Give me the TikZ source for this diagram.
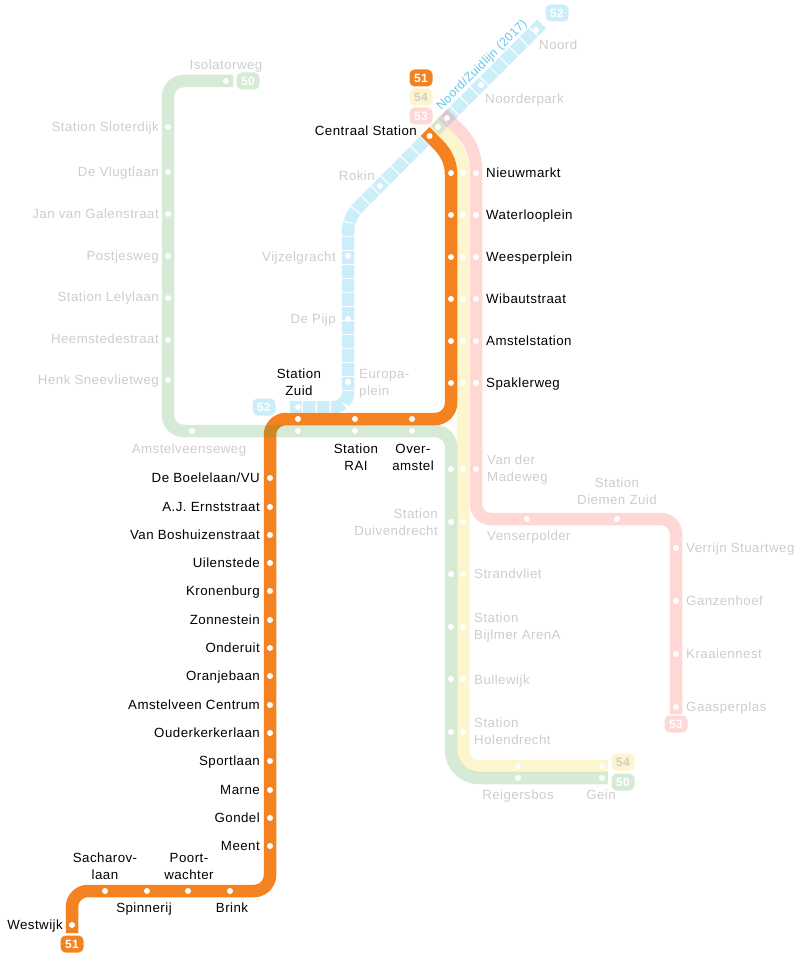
\documentclass[tikz,border=0pt]{standalone}
\usepackage{fontspec}
\setmainfont[LetterSpace=3.5]{Liberation Sans}
\usetikzlibrary{positioning}
\definecolor{lineorange}{HTML}{F58220}
\definecolor{lineblue}{HTML}{00AAEB}
\definecolor{lineyellow}{HTML}{F5CD0A}
\definecolor{linepink}{HTML}{FF3C2D}
\definecolor{linegreen}{HTML}{2D9B32}
\definecolor{fadegrey}{HTML}{CDCDCD}
\definecolor{titleblue}{HTML}{5CC8F0}

\begin{document}
\begin{tikzpicture}[
  x=1pt, y=-1pt,
  metroline/.style={line width=12.5pt},
  stopdot/.style={circle, fill=white, minimum size=6pt, inner sep=0pt},
  stn/.style={inner sep=0pt, font=\fontsize{13.3}{17}\selectfont, text height=11pt, text depth=1.2pt},
  stntwo/.style={inner sep=0pt, align=center, font=\fontsize{13.3}{17}\selectfont},
  stnleft/.style={inner sep=0pt, align=left, font=\fontsize{13.3}{17}\selectfont},
  stnright/.style={inner sep=0pt, align=right, font=\fontsize{13.3}{17}\selectfont},
  badge/.style={rounded corners=5pt, minimum width=23pt, minimum height=17pt, inner sep=0pt, font=\fontsize{12}{12}\selectfont\bfseries, text=white}
]
  \useasboundingbox (0,0) rectangle (800,955);

  % Line 52 (tiles)
  \coordinate (ba) at (541.5,24);
  \coordinate (bb) at (360,205.5);
  \coordinate (bc) at (348,234);
  \coordinate (bd) at (348,407);
  \coordinate (be) at (290,407);
  \draw[metroline, draw=lineblue, draw opacity=.2, dash pattern=on 12.6pt off 1.4pt, dash phase=2.3pt]
    (ba) -- (bb) .. controls (352,213.5) and (348,222) .. (bc) [rounded corners=14pt] -- (bd) -- (be);

  % Line 54
  \coordinate (ya) at (433.6,122.6);
  \coordinate (yb) at (449,138);
  \coordinate (yc) at (463,172);
  \coordinate (yd) at (463,766);
  \coordinate (ye) at (608,766);
  \draw[metroline, draw=lineyellow, draw opacity=.2]
    (ya) -- (yb) .. controls (458,147) and (463,158) .. (yc) [rounded corners=16pt] -- (yd) -- (ye);

  % Line 53
  \coordinate (pa) at (442.5,113.6);
  \coordinate (pb) at (460,131);
  \coordinate (pc) at (476,170);
  \coordinate (pd) at (476,519);
  \coordinate (pe) at (676,519);
  \coordinate (pf) at (676,714);
  \draw[metroline, draw=linepink, draw opacity=.2]
    (pa) -- (pb) .. controls (470,141) and (476,154) .. (pc) [rounded corners=15pt] -- (pd) -- (pe) -- (pf);

  % Line 51
  \coordinate (oa) at (425,131.5);
  \coordinate (ob) at (438,144.5);
  \coordinate (oc) at (451,174);
  \coordinate (od) at (451,419);
  \coordinate (oe) at (270,419);
  \coordinate (of) at (270,891);
  \coordinate (og) at (72,891);
  \coordinate (oh) at (72,933);
  \draw[metroline, draw=lineorange]
    (oa) -- (ob) .. controls (446,152.5) and (451,162) .. (oc) [rounded corners=16pt] -- (od) -- (oe) -- (of) -- (og) -- (oh);

  % Line 50
  \coordinate (ga) at (233,81);
  \coordinate (gb) at (168,81);
  \coordinate (gc) at (168,431);
  \coordinate (gd) at (451,431);
  \coordinate (ge) at (451,778);
  \coordinate (gf) at (608,778);
  \draw[metroline, draw=linegreen, draw opacity=.2, rounded corners=16pt]
    (ga) -- (gb) -- (gc) -- (gd) [rounded corners=28pt] -- (ge) -- (gf);

  % Stops
  \foreach \y in {173,215,257,299,341,383} {
    \node[stopdot] (o451\y) at (451,\y) {};
    \node[stopdot] (y463\y) at (463,\y) {};
    \node[stopdot] (p476\y) at (476,\y) {};
  }
  \foreach \x in {298,355,412} {
    \node[stopdot] (o\x) at (\x,419) {};
    \node[stopdot] (g\x) at (\x,431) {};
  }
  \foreach \y in {478,507,535,563,591,620,648,676,705,733,761,790,818,846}
    \node[stopdot] (o270\y) at (270,\y) {};
  \foreach \x in {105,147,188,230}
    \node[stopdot] (o\x) at (\x,891) {};
  \node[stopdot] (owest) at (72,925) {};
  \node[stopdot] (ocentraal) at (429.5,136) {};
  \node[stopdot] (ycentraal) at (438,127) {};
  \node[stopdot] (pcentraal) at (447,118) {};
  \foreach \y in {469,522,574,627,679,732} {
    \node[stopdot] (g451\y) at (451,\y) {};
    \node[stopdot] (y463\y) at (463,\y) {};
  }
  \node[stopdot] (p476469) at (476,469) {};
  \foreach \x in {518,602} {
    \node[stopdot] (y\x) at (\x,766) {};
    \node[stopdot] (g\x) at (\x,778) {};
  }
  \node[stopdot] (p527) at (527,519) {};
  \node[stopdot] (p617) at (617,519) {};
  \foreach \y in {548,601,654,707}
    \node[stopdot] (p676\y) at (676,\y) {};
  \node[stopdot] (giso) at (226,81) {};
  \node[stopdot] (gams) at (192,431) {};
  \foreach \y in {127,172,214,256,298,340,380}
    \node[stopdot] (g168\y) at (168,\y) {};
  \node[stopdot] (bzuid) at (298,407) {};
  \node[stopdot] (beuro) at (348,382) {};
  \node[stopdot] (bpijp) at (348,319) {};
  \node[stopdot] (bvijz) at (348,256) {};
  \node[stopdot] (brokin) at (380,186) {};
  \node[stopdot] (bnpark) at (481,85) {};
  \node[stopdot] (bnoord) at (536,30) {};

  % Black labels, line 51 and centre
  \foreach \y/\txt in {173/Nieuwmarkt,215/Waterlooplein,257/Weesperplein,299/Wibautstraat,341/Amstelstation,383/Spaklerweg}
    \node[stn, anchor=west] (lbl\y) at (486,\y) {\txt};
  \foreach \y/\txt in {478/{De Boelelaan/VU},507/A.J. Ernststraat,535/Van Boshuizenstraat,563/Uilenstede,591/Kronenburg,620/Zonnestein,648/Onderuit,676/Oranjebaan,705/Amstelveen Centrum,733/Ouderkerkerlaan,761/Sportlaan,790/Marne,818/Gondel,846/Meent}
    \node[stn, anchor=east] (lbl\y) at (260,\y) {\txt};
  \node[stn, anchor=east] (lblcentraal) at (417,131) {Centraal Station};
  \node[stn, anchor=east] (lblwest) at (63,925) {Westwijk};
  \node[stntwo] (lblzuid) at (299,382) {Station\\Zuid};
  \node[stntwo] (lblrai) at (356,457) {Station\\RAI};
  \node[stntwo] (lblover) at (413,457) {Over-\\amstel};
  \node[stntwo] (lblsach) at (105,866) {Sacharov-\\laan};
  \node[stntwo] (lblpoort) at (189,866) {Poort-\\wachter};
  \node[stn] (lblspin) at (144,908) {Spinnerij};
  \node[stn] (lblbrink) at (232,908) {Brink};

  % Faded labels
  \begin{scope}[text=fadegrey]
    \foreach \y/\txt in {127/Station Sloterdijk,172/De Vlugtlaan,214/Jan van Galenstraat,256/Postjesweg,297/Station Lelylaan,339/Heemstedestraat,380/Henk Sneevlietweg}
      \node[stn, anchor=east] (lbl\y) at (159,\y) {\txt};
    \foreach \y/\txt in {548/Verrijn Stuartweg,601/Ganzenhoef,654/Kraaiennest,707/Gaasperplas}
      \node[stn, anchor=west] (lbl\y) at (686,\y) {\txt};
    \node[stn] (lbliso) at (226,65) {Isolatorweg};
    \node[stn] (lblams) at (189,449) {Amstelveenseweg};
    \node[stn, anchor=east] (lblrokin) at (375,176) {Rokin};
    \node[stn, anchor=east] (lblvijz) at (336,257) {Vijzelgracht};
    \node[stn, anchor=east] (lblpijp) at (336,319) {De Pijp};
    \node[stnleft, anchor=west] (lbleuro) at (359,384) {Europa-\\plein};
    \node[stn, anchor=west] (lblnpark) at (485,99) {Noorderpark};
    \node[stn, anchor=west] (lblnoord) at (539,45) {Noord};
    \node[stnleft, anchor=west] (lblvan) at (487,470) {Van der\\Madeweg};
    \node[stntwo] (lbldiem) at (617,491) {Station\\Diemen Zuid};
    \node[stn, anchor=west] (lblvens) at (487,536) {Venserpolder};
    \node[stnright, anchor=east] (lblduiv) at (438,522) {Station\\Duivendrecht};
    \node[stn, anchor=west] (lblstr) at (474,574) {Strandvliet};
    \node[stnleft, anchor=west] (lblbijl) at (474,628) {Station\\Bijlmer ArenA};
    \node[stn, anchor=west] (lblbull) at (474,680) {Bullewijk};
    \node[stnleft, anchor=west] (lblhol) at (474,731) {Station\\Holendrecht};
    \node[stn] (lblreig) at (518,795) {Reigersbos};
    \node[stn] (lblgein) at (601,795) {Gein};
  \end{scope}
  \node[stn, text=titleblue, rotate=45, font=\fontsize{12.2}{14}\selectfont] (lbltitle) at (481,64) {Noord/Zuidlijn (2017)};

  % Line badges
  \node[badge, fill=lineorange] (b51top) at (421,78) {51};
  \node[badge, fill=lineyellow!20, text=fadegrey] (b54top) at (421,97) {54};
  \node[badge, fill=linepink!20] (b53top) at (421,116) {53};
  \node[badge, fill=lineblue!20] (b52top) at (557,13) {52};
  \node[badge, fill=lineblue!20] (b52low) at (264,407) {52};
  \node[badge, fill=linegreen!20] (b50top) at (248,81) {50};
  \node[badge, fill=lineyellow!20, text=fadegrey] (b54low) at (623,762) {54};
  \node[badge, fill=linegreen!20] (b50low) at (623,782) {50};
  \node[badge, fill=linepink!20] (b53low) at (676,724) {53};
  \node[badge, fill=lineorange] (b51low) at (72,944) {51};
\end{tikzpicture}
\end{document}
